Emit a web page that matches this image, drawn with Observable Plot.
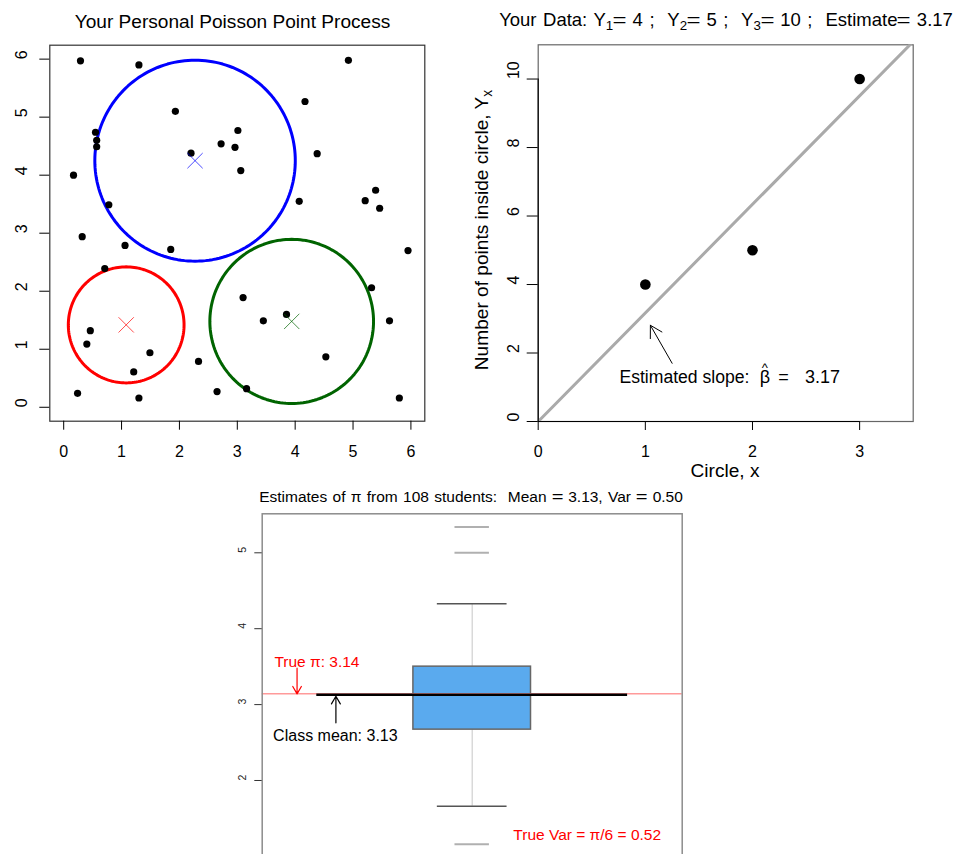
<!DOCTYPE html>
<html><head><meta charset="utf-8">
<script src="https://cdn.jsdelivr.net/npm/d3@7"></script>
<script src="https://cdn.jsdelivr.net/npm/@observablehq/plot@0.6"></script>
<style>
html,body{margin:0;padding:0;background:#fff;overflow:hidden;}
#wrap{position:relative;width:955px;height:854px;overflow:hidden;font-family:"Liberation Sans",Arial,Helvetica,sans-serif;color:#000;}
.panel{position:absolute;}
.lbl{position:absolute;white-space:pre;}
.lbl sub{font-size:0.72em;vertical-align:baseline;position:relative;top:0.28em;}
.eq{display:inline-block;transform:scaleX(1.3);margin:0 1px;}
</style></head><body><div id="wrap"></div>
<script>
const FONT = '"Liberation Sans", Arial, Helvetica, sans-serif';

// ---------- Data: panel 1 (Poisson point process) ----------
const pointX = [0.29,1.30,4.92,1.93,4.17,0.55,0.57,0.57,3.01,2.72,2.96,2.20,4.38,3.06,0.17,0.78,4.07,5.21,5.39,5.46,0.32,1.06,1.85,5.95,0.71,5.32,3.10,3.85,3.45,5.63,0.46,0.40,1.49,2.33,4.53,1.21,3.16,0.24,2.65,1.30,5.80];
const pointY = [5.97,5.90,5.98,5.10,5.27,4.74,4.60,4.49,4.77,4.54,4.48,4.38,4.37,4.08,4.00,3.49,3.55,3.56,3.74,3.43,2.94,2.79,2.72,2.70,2.39,2.06,1.89,1.60,1.49,1.49,1.32,1.09,0.94,0.79,0.87,0.61,0.32,0.24,0.27,0.16,0.16];
const circleIdx = [1, 2, 3];              // circle x; radius = sqrt(x), area = pi*x
const centerX = [1.08, 3.94, 2.27];
const centerY = [1.42, 1.48, 4.25];
const circleColor = ["#ff0000", "#006400", "#0000ff"];
const ticks1 = [0, 1, 2, 3, 4, 5, 6];

// ---------- Data: panel 2 (counts vs circle) ----------
const countY = [4, 5, 10];
const slopeEst = 3.17;
const xTicks2 = [0, 1, 2, 3];
const yTicks2 = [0, 2, 4, 6, 8, 10];

// ---------- Data: panel 3 (class boxplot) ----------
const nStudents = 108;
const classMean = 3.13;
const classVar = 0.50;
const truePi = 3.14159;
const trueVar = 0.52;
const boxFive = [1.66, 2.67, 3.13, 3.50, 4.33]; // lower whisker, Q1, median, Q3, upper whisker
const outliers = [5.34, 5.00, 1.16];
const yTicks3 = [2, 3, 4, 5];

const wrap = document.getElementById("wrap");
function place(el, left, top) {
  el.classList.add("panel");
  el.style.left = left + "px"; el.style.top = top + "px";
  wrap.appendChild(el);
}
function fitWidth(el, target) {
  const n = (el.textContent.match(/ /g) || []).length;
  if (!n || !target) return;
  const w = el.offsetWidth;
  el.style.wordSpacing = ((target - w) / n).toFixed(2) + "px";
}
// line box of 0.8em: baseline sits 0.7465em below its top (Liberation Sans metrics)
function label(html, cx, baseline, size, target) {
  const d = document.createElement("div");
  d.className = "lbl";
  d.innerHTML = html;
  d.style.fontSize = size + "px";
  d.style.lineHeight = (0.8 * size) + "px";
  d.style.left = cx + "px";
  d.style.top = (baseline - 0.7465 * size) + "px";
  d.style.transform = "translateX(-50%)";
  wrap.appendChild(d);
  fitWidth(d, target);
  return d;
}
function vlabel(html, baselineX, cy, size) {
  const o = document.createElement("div");
  o.style.position = "absolute"; o.style.left = baselineX + "px"; o.style.top = cy + "px";
  o.style.width = "0px"; o.style.height = "0px";
  const d = document.createElement("div");
  d.className = "lbl";
  d.innerHTML = html;
  d.style.fontSize = size + "px"; d.style.lineHeight = (0.8 * size) + "px";
  d.style.left = "0px"; d.style.top = "0px";
  d.style.transformOrigin = "0 0";
  d.style.transform = `rotate(-90deg) translate(-50%, -${0.7465 * size}px)`;
  o.appendChild(d);
  wrap.appendChild(o);
}

// ---------- Panel 1 ----------
const pts = pointX.map((x, i) => ({x, y: pointY[i]}));
const centers = circleIdx.map((k, i) => ({k, x: centerX[i], y: centerY[i], c: circleColor[i]}));
const ring = centers.flatMap(c => d3.range(0, 361, 2).map(a => ({
  k: c.k, c: c.c,
  x: c.x + Math.sqrt(c.k) * Math.cos(a * Math.PI / 180),
  y: c.y + Math.sqrt(c.k) * Math.sin(a * Math.PI / 180)
})));
const pad1 = 0.04 * (d3.max(ticks1) - d3.min(ticks1));
const p1 = Plot.plot({
  width: 460, height: 470,
  marginLeft: 49.3, marginRight: 35.7, marginTop: 44.7, marginBottom: 49.3,
  x: {domain: [d3.min(ticks1) - pad1, d3.max(ticks1) + pad1], axis: null},
  y: {domain: [d3.min(ticks1) - pad1, d3.max(ticks1) + pad1], axis: null},
  color: {type: "identity"},
  style: {fontFamily: FONT, fontSize: "16px", background: "transparent", color: "#000", overflow: "visible"},
  marks: [
    Plot.line(ring, {x: "x", y: "y", z: "k", stroke: "c", strokeWidth: 3}),
    Plot.dot(pts, {x: "x", y: "y", r: 3.6, fill: "#000", stroke: null}),
    Plot.dot(centers, {x: "x", y: "y", symbol: "times", r: 7, stroke: "c", strokeOpacity: 0.7, strokeWidth: 1}),
    Plot.frame({stroke: "#333", strokeWidth: 1.2}),
    Plot.axisX({ticks: ticks1, tickSize: 9, tickPadding: 15, label: null, fontSize: 16, tickFormat: d => String(d)}),
    Plot.axisY({ticks: ticks1, tickSize: 10, label: null, tickFormat: () => ""}),
    Plot.text(ticks1, {y: d => d, frameAnchor: "left", dx: -23.3, rotate: -90, lineAnchor: "bottom", text: d => String(d), fontSize: 16})
  ]
});
place(p1, 0, 0);

// ---------- Panel 2 ----------
const xLim2 = [0, 3.5];
const yLim2 = [0, 11];
const fitLine = xLim2.map(x => ({x, y: slopeEst * x}));
const p2 = Plot.plot({
  width: 495, height: 480,
  marginLeft: 77.7, marginRight: 42.3, marginTop: 44.3, marginBottom: 59,
  x: {domain: xLim2, axis: null},
  y: {domain: yLim2, axis: null},
  style: {fontFamily: FONT, fontSize: "16px", background: "transparent", color: "#000", overflow: "visible"},
  marks: [
    Plot.frame({stroke: "#666", strokeWidth: 1.2}),
    Plot.line(fitLine, {x: "x", y: "y", stroke: "#aaaaaa", strokeWidth: 3, clip: true}),
    Plot.dot(circleIdx, {x: d => d, y: (d, i) => countY[i], r: 5.3, fill: "#000", stroke: null}),
    Plot.ruleY([yTicks2[0]], {x1: xTicks2[0], x2: xTicks2[xTicks2.length - 1], stroke: "#000", strokeWidth: 1.2}),
    Plot.ruleX([xTicks2[0]], {y1: yTicks2[0], y2: yTicks2[yTicks2.length - 1], stroke: "#000", strokeWidth: 1.2}),
    Plot.axisX({ticks: xTicks2, tickSize: 9, tickPadding: 15, label: null, fontSize: 16, tickFormat: d => String(d)}),
    Plot.axisY({ticks: yTicks2, tickSize: 11, label: null, tickFormat: () => ""}),
    Plot.text(yTicks2, {y: d => d, frameAnchor: "left", dx: -19.4, rotate: -90, lineAnchor: "bottom", text: d => String(d), fontSize: 16}),
    Plot.arrow([slopeEst], {x1: 1.25, y1: 1.70, x2: 1.047, y2: 2.81, stroke: "#000", strokeWidth: 1, headLength: 20, headAngle: 60}),
    // annotation: "Estimated slope:  β̂ =  3.17"
    Plot.text([slopeEst], {x: 0.758, y: 1.12, text: () => "Estimated slope:", textAnchor: "start", lineAnchor: "bottom", fontSize: 17.6}),
    Plot.text([slopeEst], {x: 2.116, y: 1.12, text: () => "β", textAnchor: "middle", lineAnchor: "bottom", fontSize: 18}),
    Plot.text([slopeEst], {x: 2.116, y: 1.46, text: () => "^", textAnchor: "middle", lineAnchor: "bottom", fontSize: 13}),
    Plot.text([slopeEst], {x: 2.289, y: 1.12, text: () => "=", textAnchor: "middle", lineAnchor: "bottom", fontSize: 18}),
    Plot.text([slopeEst], {x: 2.491, y: 1.12, text: d => d.toFixed(2), textAnchor: "start", lineAnchor: "bottom", fontSize: 18})
  ]
});
place(p2, 460, 0);

// ---------- Panel 3 ----------
const [wLo, q1, med, q3, wHi] = boxFive;
const p3 = Plot.plot({
  width: 480, height: 410,
  marginLeft: 41.7, marginRight: 18.3, marginTop: 43.3, marginBottom: 10,
  x: {domain: [0.5, 1.5], axis: null},
  y: {domain: [0.814, 5.514], axis: null},
  style: {fontFamily: FONT, fontSize: "11px", background: "transparent", color: "#000", overflow: "visible"},
  marks: [
    Plot.ruleX([1], {y1: q3, y2: wHi, stroke: "#d0d0d0", strokeWidth: 1.2}),
    Plot.ruleX([1], {y1: wLo, y2: q1, stroke: "#d0d0d0", strokeWidth: 1.2}),
    Plot.ruleY([wHi, wLo], {x1: 1 - 0.083, x2: 1 + 0.083, stroke: "#555", strokeWidth: 1.5}),
    Plot.rect([q1], {x1: 0.86, x2: 1.14, y1: q1, y2: q3, fill: "#5aaaee", stroke: "#666", strokeWidth: 1.5}),
    Plot.ruleY([med], {x1: 0.86, x2: 1.14, stroke: "#000", strokeWidth: 2.5}),
    Plot.ruleY(outliers, {x1: 1 - 0.041, x2: 1 + 0.041, stroke: "#b0b0b0", strokeWidth: 2}),
    Plot.ruleY([truePi], {stroke: "#ff9a9a", strokeWidth: 1.5}),
    Plot.ruleY([classMean], {x1: 0.63, x2: 1.37, stroke: "#000", strokeWidth: 2.5}),
    Plot.arrow([truePi], {x1: 0.583, y1: 3.48, x2: 0.583, y2: d => d, stroke: "#ff0000", strokeWidth: 1.2, headLength: 12}),
    Plot.arrow([classMean], {x1: 0.6755, y1: 2.76, x2: 0.6755, y2: d => d - 0.02, stroke: "#000", strokeWidth: 1.2, headLength: 12}),
    Plot.text([truePi], {x: 0.529, y: 3.50, text: d => `True π: ${d.toFixed(2)}`, textAnchor: "start", lineAnchor: "bottom", fill: "#ff0000", fontSize: 15.5}),
    Plot.text([classMean], {x: 0.526, y: 2.52, text: d => `Class mean: ${d.toFixed(2)}`, textAnchor: "start", lineAnchor: "bottom", fill: "#000", fontSize: 16}),
    Plot.text([trueVar], {x: 1.098, y: 1.22, text: d => `True Var = π/6 = ${d.toFixed(2)}`, textAnchor: "start", lineAnchor: "bottom", fill: "#ff0000", fontSize: 15.5}),
    Plot.frame({stroke: "#8c8c8c", strokeWidth: 1.5}),
    Plot.axisY({ticks: yTicks3, tickSize: 7.4, label: null, tickFormat: () => "", stroke: "#333"}),
    Plot.text(yTicks3, {y: d => d, frameAnchor: "left", dx: -16.7, rotate: -90, lineAnchor: "bottom", text: d => String(d), fontSize: 10.5, fill: "#222"})
  ]
});
place(p3, 220, 470);

// ---------- Titles and axis labels ----------
label("Your Personal Poisson Point Process", 232.5, 28.3, 19.1);
label(`Your Data: Y<sub>1</sub><span class="eq">=</span> ${countY[0]} ;  Y<sub>2</sub><span class="eq">=</span> ${countY[1]} ;  Y<sub>3</sub><span class="eq">=</span> ${countY[2]} ;  Estimate<span class="eq">=</span> ${slopeEst.toFixed(2)}`, 726, 27.3, 18.5, 454);
vlabel("Number of points inside circle, Y<sub>x</sub>", 488.3, 230, 19.1);
label("Circle, x", 725, 477.5, 19.1);
label(`Estimates of π from ${nStudents} students:  Mean <span class="eq">=</span> ${classMean.toFixed(2)}, Var <span class="eq">=</span> ${classVar.toFixed(2)}`, 471, 502.7, 15.5, 424);
</script></body></html>
